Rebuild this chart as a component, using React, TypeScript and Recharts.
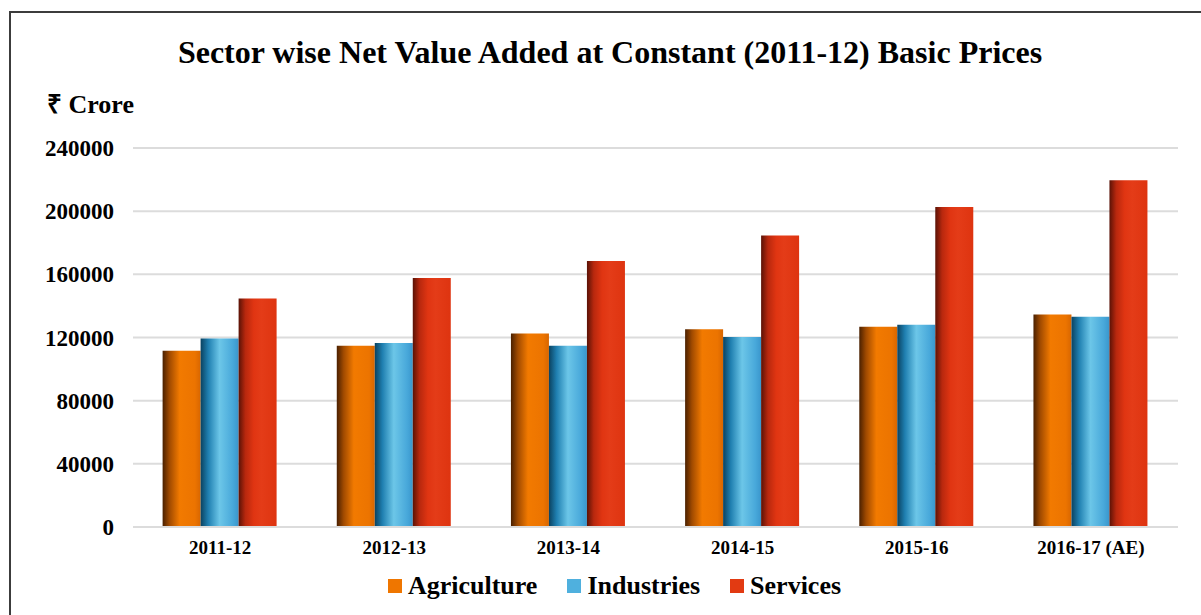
import { BarChart, Bar, XAxis, YAxis, CartesianGrid } from 'recharts'

const years = ['2011-12', '2012-13', '2013-14', '2014-15', '2015-16', '2016-17 (AE)']
const agriculture = [111600, 114700, 122600, 125300, 126800, 134600]
const industries = [119400, 116500, 114800, 120300, 128000, 133100]
const services = [144700, 157600, 168400, 184600, 202700, 219600]
const yTicks = [0, 40000, 80000, 120000, 160000, 200000, 240000]

const chartData = years.map((y, i) => ({
  year: y,
  agriculture: agriculture[i],
  industries: industries[i],
  services: services[i],
}))

const serif = 'Liberation Serif'

const legendItems = [
  { name: 'Agriculture', color: '#ef7600' },
  { name: 'Industries', color: '#4fb0de' },
  { name: 'Services', color: '#e23a12' },
]

interface TickProps {
  x?: number
  y?: number
  payload?: { value: string | number }
}

function YTick({ x = 0, y = 0, payload }: TickProps) {
  return (
    <text x={x} y={y} dy="0.35em" textAnchor="end" style={{ fontFamily: serif, fontWeight: 700, fontSize: 23 }} fill="#000">
      {String(payload?.value)}
    </text>
  )
}

function XTick({ x = 0, y = 0, payload }: TickProps) {
  return (
    <text x={x} y={y} dy="0.71em" textAnchor="middle" style={{ fontFamily: serif, fontWeight: 700, fontSize: 19 }} fill="#000">
      {payload?.value}
    </text>
  )
}

function SectorLegend() {
  return (
    <div style={{ position: 'absolute', left: 0, top: 571, width: 1201, display: 'flex', justifyContent: 'center', paddingLeft: 58, boxSizing: 'border-box', fontFamily: serif, fontWeight: 700, fontSize: 26, color: '#000' }}>
      {legendItems.map(it => (
        <div key={it.name} style={{ display: 'flex', alignItems: 'center', marginRight: 30 }}>
          <span style={{ width: 14, height: 14, background: it.color, display: 'inline-block', marginRight: 6 }} />
          <span>{it.name}</span>
        </div>
      ))}
    </div>
  )
}

export default function App() {
  return (
    <div style={{ position: 'absolute', left: 0, top: 0, width: 1201, height: 615, background: '#fff', overflow: 'hidden' }}>
      <div style={{ position: 'absolute', left: 9, top: 11, width: 1300, height: 700, border: '2px solid #3c3c3c', boxSizing: 'border-box' }} />
      <div style={{ position: 'absolute', left: 0, width: 1220, top: 34, textAlign: 'center', fontFamily: serif, fontWeight: 700, fontSize: 32, color: '#000' }}>
        Sector wise Net Value Added at Constant (2011-12) Basic Prices
      </div>
      <div style={{ position: 'absolute', left: 47, top: 85, fontFamily: serif, fontWeight: 700, fontSize: 26, color: '#000' }}>
        ₹ Crore
      </div>
      <BarChart
        width={1201}
        height={615}
        data={chartData}
        margin={{ top: 148, right: 23, bottom: 58, left: 0 }}
        barCategoryGap="17%"
        barGap={0}
        style={{ position: 'absolute', left: 0, top: 0 }}
      >
        <defs>
          <linearGradient id="gAgr" x1="0" y1="0" x2="1" y2="0">
            <stop offset="0%" stopColor="#4a2000" />
            <stop offset="18%" stopColor="#a04a00" />
            <stop offset="45%" stopColor="#f27a00" />
            <stop offset="85%" stopColor="#ec7400" />
            <stop offset="100%" stopColor="#d86600" />
          </linearGradient>
          <linearGradient id="gInd" x1="0" y1="0" x2="1" y2="0">
            <stop offset="0%" stopColor="#0a4260" />
            <stop offset="20%" stopColor="#1f7fb0" />
            <stop offset="50%" stopColor="#6cc6e8" />
            <stop offset="85%" stopColor="#48a8da" />
            <stop offset="100%" stopColor="#3a96cc" />
          </linearGradient>
          <linearGradient id="gSer" x1="0" y1="0" x2="1" y2="0">
            <stop offset="0%" stopColor="#5a1206" />
            <stop offset="18%" stopColor="#b8280e" />
            <stop offset="40%" stopColor="#e03512" />
            <stop offset="60%" stopColor="#e43c18" />
            <stop offset="100%" stopColor="#de3410" />
          </linearGradient>
        </defs>
        <CartesianGrid horizontal vertical={false} stroke="#dcdcdc" strokeWidth={2} />
        <XAxis
          dataKey="year"
          height={30}
          axisLine={{ stroke: '#dcdcdc', strokeWidth: 2 }}
          tickLine={false}
          tickSize={0}
          tickMargin={14}
          tick={<XTick />}
          interval={0}
        />
        <YAxis
          width={133}
          domain={[0, 240000]}
          ticks={yTicks}
          axisLine={false}
          tickLine={false}
          tickSize={0}
          tickMargin={19}
          tick={<YTick />}
        />
        <Bar dataKey="agriculture" name="Agriculture" fill="url(#gAgr)" isAnimationActive={false} />
        <Bar dataKey="industries" name="Industries" fill="url(#gInd)" isAnimationActive={false} />
        <Bar dataKey="services" name="Services" fill="url(#gSer)" isAnimationActive={false} />
      </BarChart>
      <SectorLegend />
    </div>
  )
}
